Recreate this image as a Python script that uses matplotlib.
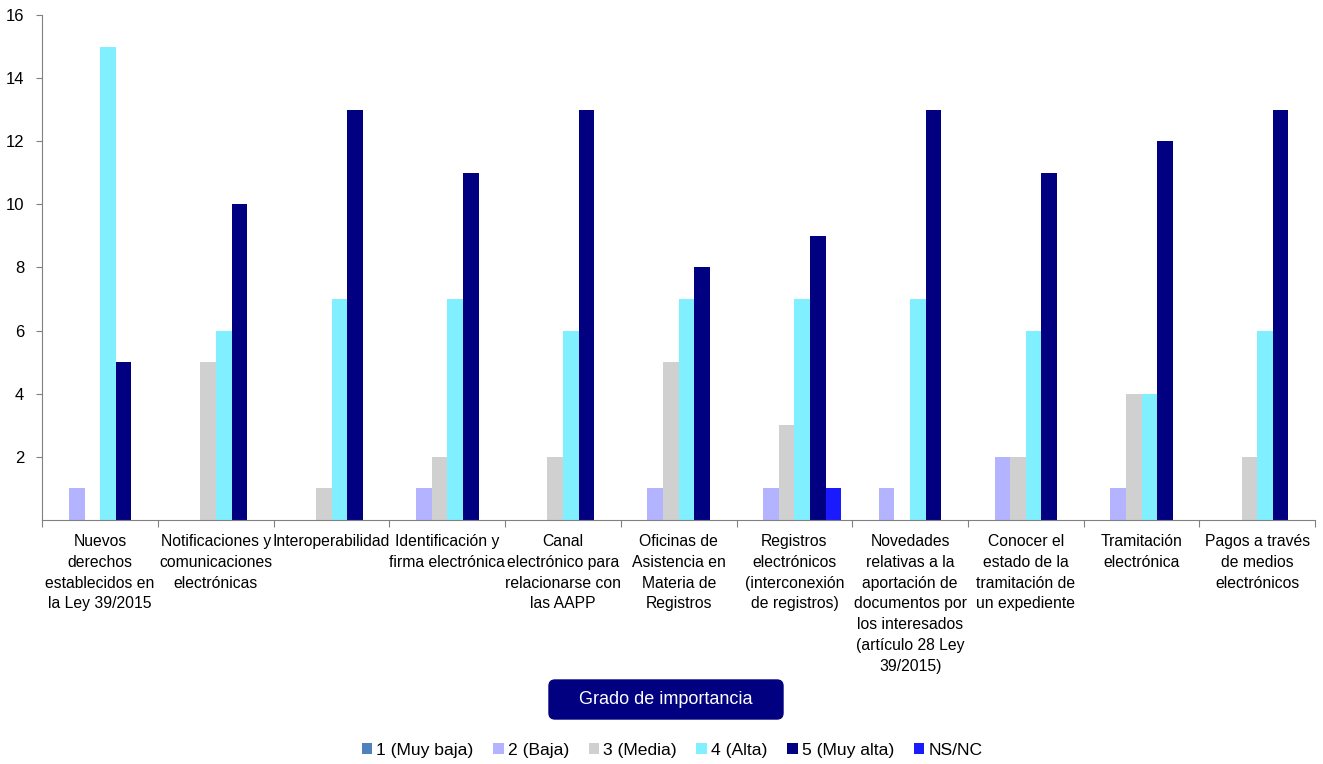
import numpy as np
import matplotlib.pyplot as plt
from matplotlib.patches import Patch, FancyBboxPatch
from matplotlib.transforms import IdentityTransform

plt.rcParams['font.family'] = ['Liberation Sans', 'DejaVu Sans']

categories = [
    'Nuevos\nderechos\nestablecidos en\nla Ley 39/2015',
    'Notificaciones y\ncomunicaciones\nelectrónicas',
    'Interoperabilidad',
    'Identificación y\nfirma electrónica',
    'Canal\nelectrónico para\nrelacionarse con\nlas AAPP',
    'Oficinas de\nAsistencia en\nMateria de\nRegistros',
    'Registros\nelectrónicos\n(interconexión\nde registros)',
    'Novedades\nrelativas a la\naportación de\ndocumentos por\nlos interesados\n(artículo 28 Ley\n39/2015)',
    'Conocer el\nestado de la\ntramitación de\nun expediente',
    'Tramitación\nelectrónica',
    'Pagos a través\nde medios\nelectrónicos',
]
series_names = ['1 (Muy baja)', '2 (Baja)', '3 (Media)', '4 (Alta)', '5 (Muy alta)', 'NS/NC']
muy_baja = [0, 0, 0, 0, 0, 0, 0, 0, 0, 0, 0]
baja     = [1, 0, 0, 1, 0, 1, 1, 1, 2, 1, 0]
media    = [0, 5, 1, 2, 2, 5, 3, 0, 2, 4, 2]
alta     = [15, 6, 7, 7, 6, 7, 7, 7, 6, 4, 6]
muy_alta = [5, 10, 13, 11, 13, 8, 9, 13, 11, 12, 13]
nsnc     = [0, 0, 0, 0, 0, 0, 1, 0, 0, 0, 0]
colors = ['#4F81BD', '#B3B3FF', '#D0D0D0', '#80EFFF', '#000080', '#1A1AFF']

series = [muy_baja, baja, media, alta, muy_alta, nsnc]

fig = plt.figure(figsize=(13.23, 7.64), dpi=100)
ax = fig.add_axes([0.032, 0.3194, 0.962, 0.661])

x = np.arange(len(categories))
w = 0.135
for i, (vals, c) in enumerate(zip(series, colors)):
    v = np.array(vals, dtype=float)
    v[v == 0] = np.nan   # zero bars are not drawn
    ax.bar(x + (i - 2.5) * w, v, width=w, color=c, edgecolor='none')

ax.set_xlim(-0.5, len(categories) - 0.5)
ax.set_ylim(0, 16)
ax.set_yticks(range(2, 17, 2))
ax.tick_params(axis='y', labelsize=12, length=4, color='#808080', pad=9)
ax.set_xticks(np.arange(len(categories) + 1) - 0.5)
ax.set_xticklabels([])
ax.tick_params(axis='x', length=5, color='#808080')
for xi, lab in zip(x, categories):
    ax.text(xi, -0.45, lab, ha='center', va='top', fontsize=11.3, linespacing=1.48)
for s in ['top', 'right']:
    ax.spines[s].set_visible(False)
for s in ['left', 'bottom']:
    ax.spines[s].set_color('#808080')

# title box (pixel coords)
box = FancyBboxPatch((549, 45), 234, 39, boxstyle='round,pad=0,rounding_size=6',
                     transform=IdentityTransform(), facecolor='#000080',
                     edgecolor='#000080')
fig.patches.append(box)
fig.text(666 / 1323, 64 / 764, 'Grado de importancia', ha='center', va='center',
         color='white', fontsize=13)

handles = [Patch(facecolor=c, edgecolor='none') for c in colors]
fig.legend(handles, series_names, loc='center', bbox_to_anchor=(0.508, 0.018), ncol=6,
           frameon=False, fontsize=12.6, handlelength=0.6, handleheight=0.6,
           handletextpad=0.25, columnspacing=1.1)

fig.savefig('out.png', dpi=100)
